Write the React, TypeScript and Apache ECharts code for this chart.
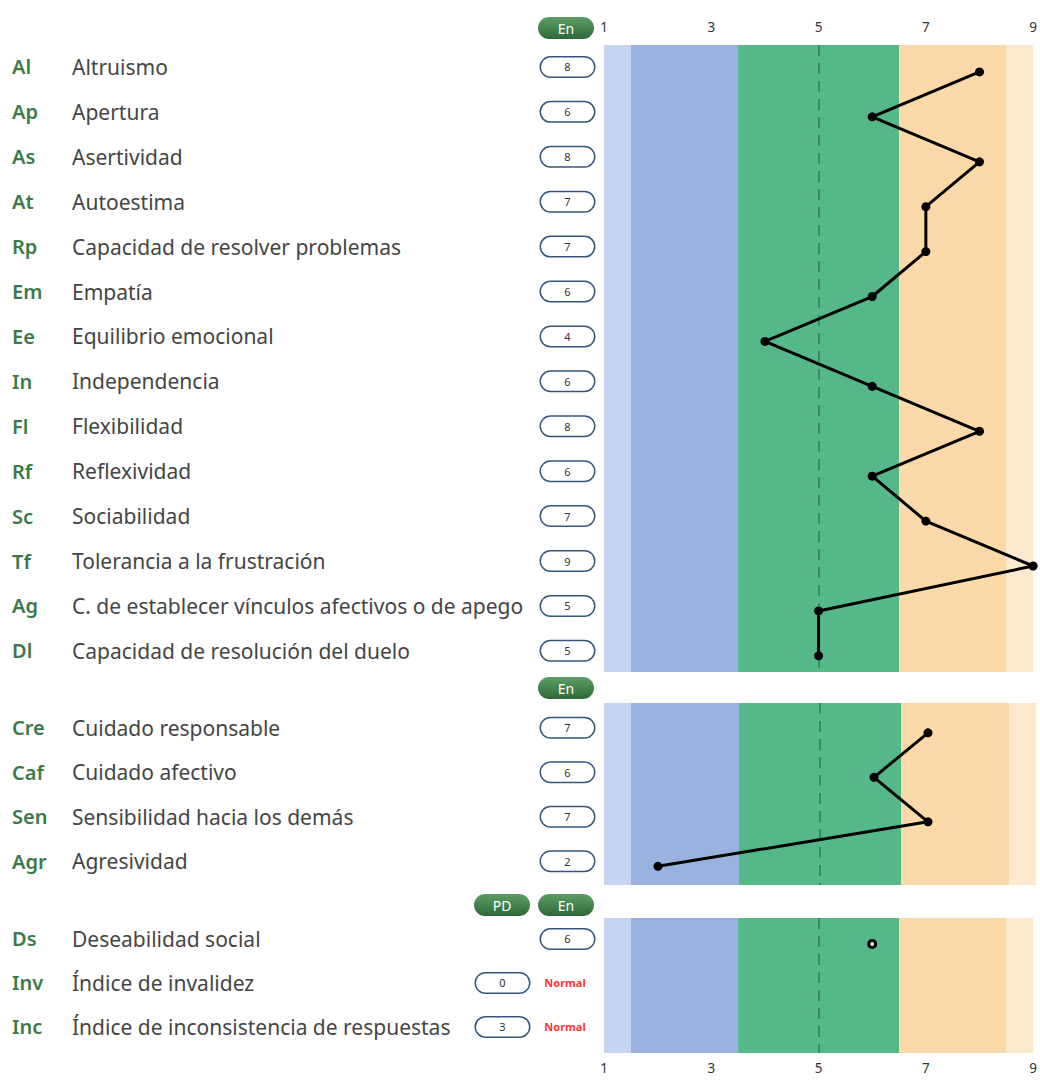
import React, { useEffect, useRef } from "react";
import * as echarts from "echarts";

// ---------- data ----------
const abbr1 = ["Al", "Ap", "As", "At", "Rp", "Em", "Ee", "In", "Fl", "Rf", "Sc", "Tf", "Ag", "Dl"];
const names1 = [
  "Altruismo",
  "Apertura",
  "Asertividad",
  "Autoestima",
  "Capacidad de resolver problemas",
  "Empatía",
  "Equilibrio emocional",
  "Independencia",
  "Flexibilidad",
  "Reflexividad",
  "Sociabilidad",
  "Tolerancia a la frustración",
  "C. de establecer vínculos afectivos o de apego",
  "Capacidad de resolución del duelo",
];
const scores1 = [8, 6, 8, 7, 7, 6, 4, 6, 8, 6, 7, 9, 5, 5];

const abbr2 = ["Cre", "Caf", "Sen", "Agr"];
const names2 = ["Cuidado responsable", "Cuidado afectivo", "Sensibilidad hacia los demás", "Agresividad"];
const scores2 = [7, 6, 7, 2];

const abbr3 = ["Ds", "Inv", "Inc"];
const names3 = ["Deseabilidad social", "Índice de invalidez", "Índice de inconsistencia de respuestas"];
const scores3 = [6, 0, 3];
const status3 = ["", "Normal", "Normal"];
const plotted3 = [true, false, false];

const xTicks = [1, 3, 5, 7, 9];
const bandEdges = [1, 1.5, 3.5, 6.5, 8.5, 9];
const bandColors = ["#c6d3f1", "#99b2e0", "#54b888", "#fcd9a8", "#fde9cd"];
const midLine = 5;

// ---------- styles ----------
const FONT = "'Noto Sans', 'Open Sans', sans-serif";
const GRID_LEFT = 604;
const GRID_WIDTH = 432;

const rich = {
  ab: { width: 60, align: "left", fontSize: 20, fontWeight: 600, color: "#3b7a4b", fontFamily: FONT },
  nm: { width: 469, align: "left", fontSize: 21, color: "#454545", fontFamily: FONT },
  nm2: { width: 404, align: "left", fontSize: 21, color: "#454545", fontFamily: FONT },
  pill: {
    width: 53,
    height: 19,
    lineHeight: 19,
    align: "center",
    fontSize: 11,
    color: "#333",
    fontFamily: FONT,
    backgroundColor: "#ffffff",
    borderColor: "#34577f",
    borderWidth: 1.5,
    borderRadius: 11,
  },
  nrm: {
    width: 58,
    align: "left",
    padding: [0, 0, 0, 7],
    fontSize: 11,
    fontWeight: "bold",
    color: "#ff3535",
    fontFamily: FONT,
  },
};

function rowText(ab: string, nm: string, val: number, st?: string) {
  if (st) return `{ab|${ab}}{nm2|${nm}}{pill|${val}}{nrm|${st}}`;
  return `{ab|${ab}}{nm|${nm}}{pill|${val}}`;
}

function bandsSeries(idx: number) {
  const areas = bandColors.map((c, i) => [
    { xAxis: bandEdges[i], itemStyle: { color: c } },
    { xAxis: bandEdges[i + 1] },
  ]);
  return {
    type: "line",
    xAxisIndex: idx,
    yAxisIndex: idx,
    data: [],
    silent: true,
    z: 1,
    markArea: { silent: true, data: areas, itemStyle: { opacity: 1 } },
    markLine: {
      silent: true,
      symbol: "none",
      label: { show: false },
      lineStyle: { color: "#2f7d50", width: 1.5, type: [11, 7] },
      data: [{ xAxis: midLine }],
    },
  };
}

function yAxisDef(idx: number, min: number, max: number, n: number, fmt: (i: number) => string) {
  return {
    type: "value",
    gridIndex: idx,
    inverse: true,
    min,
    max,
    axisLine: { show: false },
    axisTick: { show: false },
    splitLine: { show: false },
    axisLabel: {
      customValues: Array.from({ length: n }, (_, i) => i),
      formatter: (v: number) => fmt(Math.round(v)),
      align: "right",
      margin: 10,
      padding: [0, 0, 10, 0],
      rich,
    },
  };
}

function xAxisDef(idx: number, show: boolean, pos: string, margin: number) {
  return {
    type: "value",
    gridIndex: idx,
    min: 1,
    max: 9,
    position: pos,
    axisLine: { show: false },
    axisTick: { show: false },
    splitLine: { show: false },
    axisLabel: {
      show,
      customValues: xTicks,
      margin,
      fontSize: 13.5,
      color: "#333",
      fontFamily: FONT,
    },
  };
}

function headerPill(x: number, y: number, label: string) {
  return {
    type: "group",
    x,
    y,
    children: [
      {
        type: "rect",
        shape: { x: 0, y: 0, width: 56, height: 22, r: 11 },
        style: {
          fill: new echarts.graphic.LinearGradient(0, 0, 0, 1, [
            { offset: 0, color: "#5c9f66" },
            { offset: 1, color: "#2e6838" },
          ]),
        },
      },
      {
        type: "text",
        x: 28,
        y: 11,
        style: {
          text: label,
          fill: "#ffffff",
          fontSize: 14,
          fontFamily: FONT,
          align: "center",
          verticalAlign: "middle",
        },
      },
    ],
  };
}

export default function App() {
  const ref = useRef<HTMLDivElement>(null);

  useEffect(() => {
    if (!ref.current) return;
    const chart = echarts.init(ref.current, undefined, { renderer: "svg" });

    const option = {
      animation: false,
      backgroundColor: "#ffffff",
      grid: [
        { left: GRID_LEFT, width: GRID_WIDTH, top: 45, height: 627 },
        { left: GRID_LEFT, width: GRID_WIDTH, top: 703, height: 182 },
        { left: GRID_LEFT, width: GRID_WIDTH, top: 918, height: 135 },
      ],
      xAxis: [xAxisDef(0, true, "top", 11), xAxisDef(1, false, "bottom", 8), xAxisDef(2, true, "bottom", 8)],
      yAxis: [
        yAxisDef(0, -0.6, 13.36, abbr1.length, (i) => rowText(abbr1[i], names1[i], scores1[i])),
        yAxisDef(1, -0.67, 3.42, abbr2.length, (i) => rowText(abbr2[i], names2[i], scores2[i])),
        yAxisDef(2, -0.59, 2.48, abbr3.length, (i) =>
          rowText(abbr3[i], names3[i], scores3[i], status3[i] || undefined)
        ),
      ],
      graphic: [
        headerPill(538, 17, "En"),
        headerPill(538, 677, "En"),
        headerPill(474, 894, "PD"),
        headerPill(538, 894, "En"),
      ],
      series: [
        bandsSeries(0),
        bandsSeries(1),
        bandsSeries(2),
        {
          type: "line",
          xAxisIndex: 0,
          yAxisIndex: 0,
          z: 5,
          clip: false,
          data: scores1.map((s, i) => [s, i]),
          symbol: "circle",
          symbolSize: 9,
          lineStyle: { color: "#000", width: 3 },
          itemStyle: { color: "#000" },
        },
        {
          type: "line",
          xAxisIndex: 1,
          yAxisIndex: 1,
          z: 5,
          clip: false,
          data: scores2.map((s, i) => [s, i]),
          symbol: "circle",
          symbolSize: 9,
          lineStyle: { color: "#000", width: 3 },
          itemStyle: { color: "#000" },
        },
        {
          type: "scatter",
          xAxisIndex: 2,
          yAxisIndex: 2,
          z: 5,
          data: scores3.map((s, i) => (plotted3[i] ? [s, i] : null)).filter((d) => d !== null),
          symbol: "circle",
          symbolSize: 7,
          itemStyle: { color: "#dfe8df", borderColor: "#000", borderWidth: 3, opacity: 1 },
        },
      ],
    };

    chart.setOption(option as any);
    return () => chart.dispose();
  }, []);

  return (
    <div
      ref={ref}
      style={{ position: "absolute", left: 0, top: 0, width: 1040, height: 1081 }}
    />
  );
}
